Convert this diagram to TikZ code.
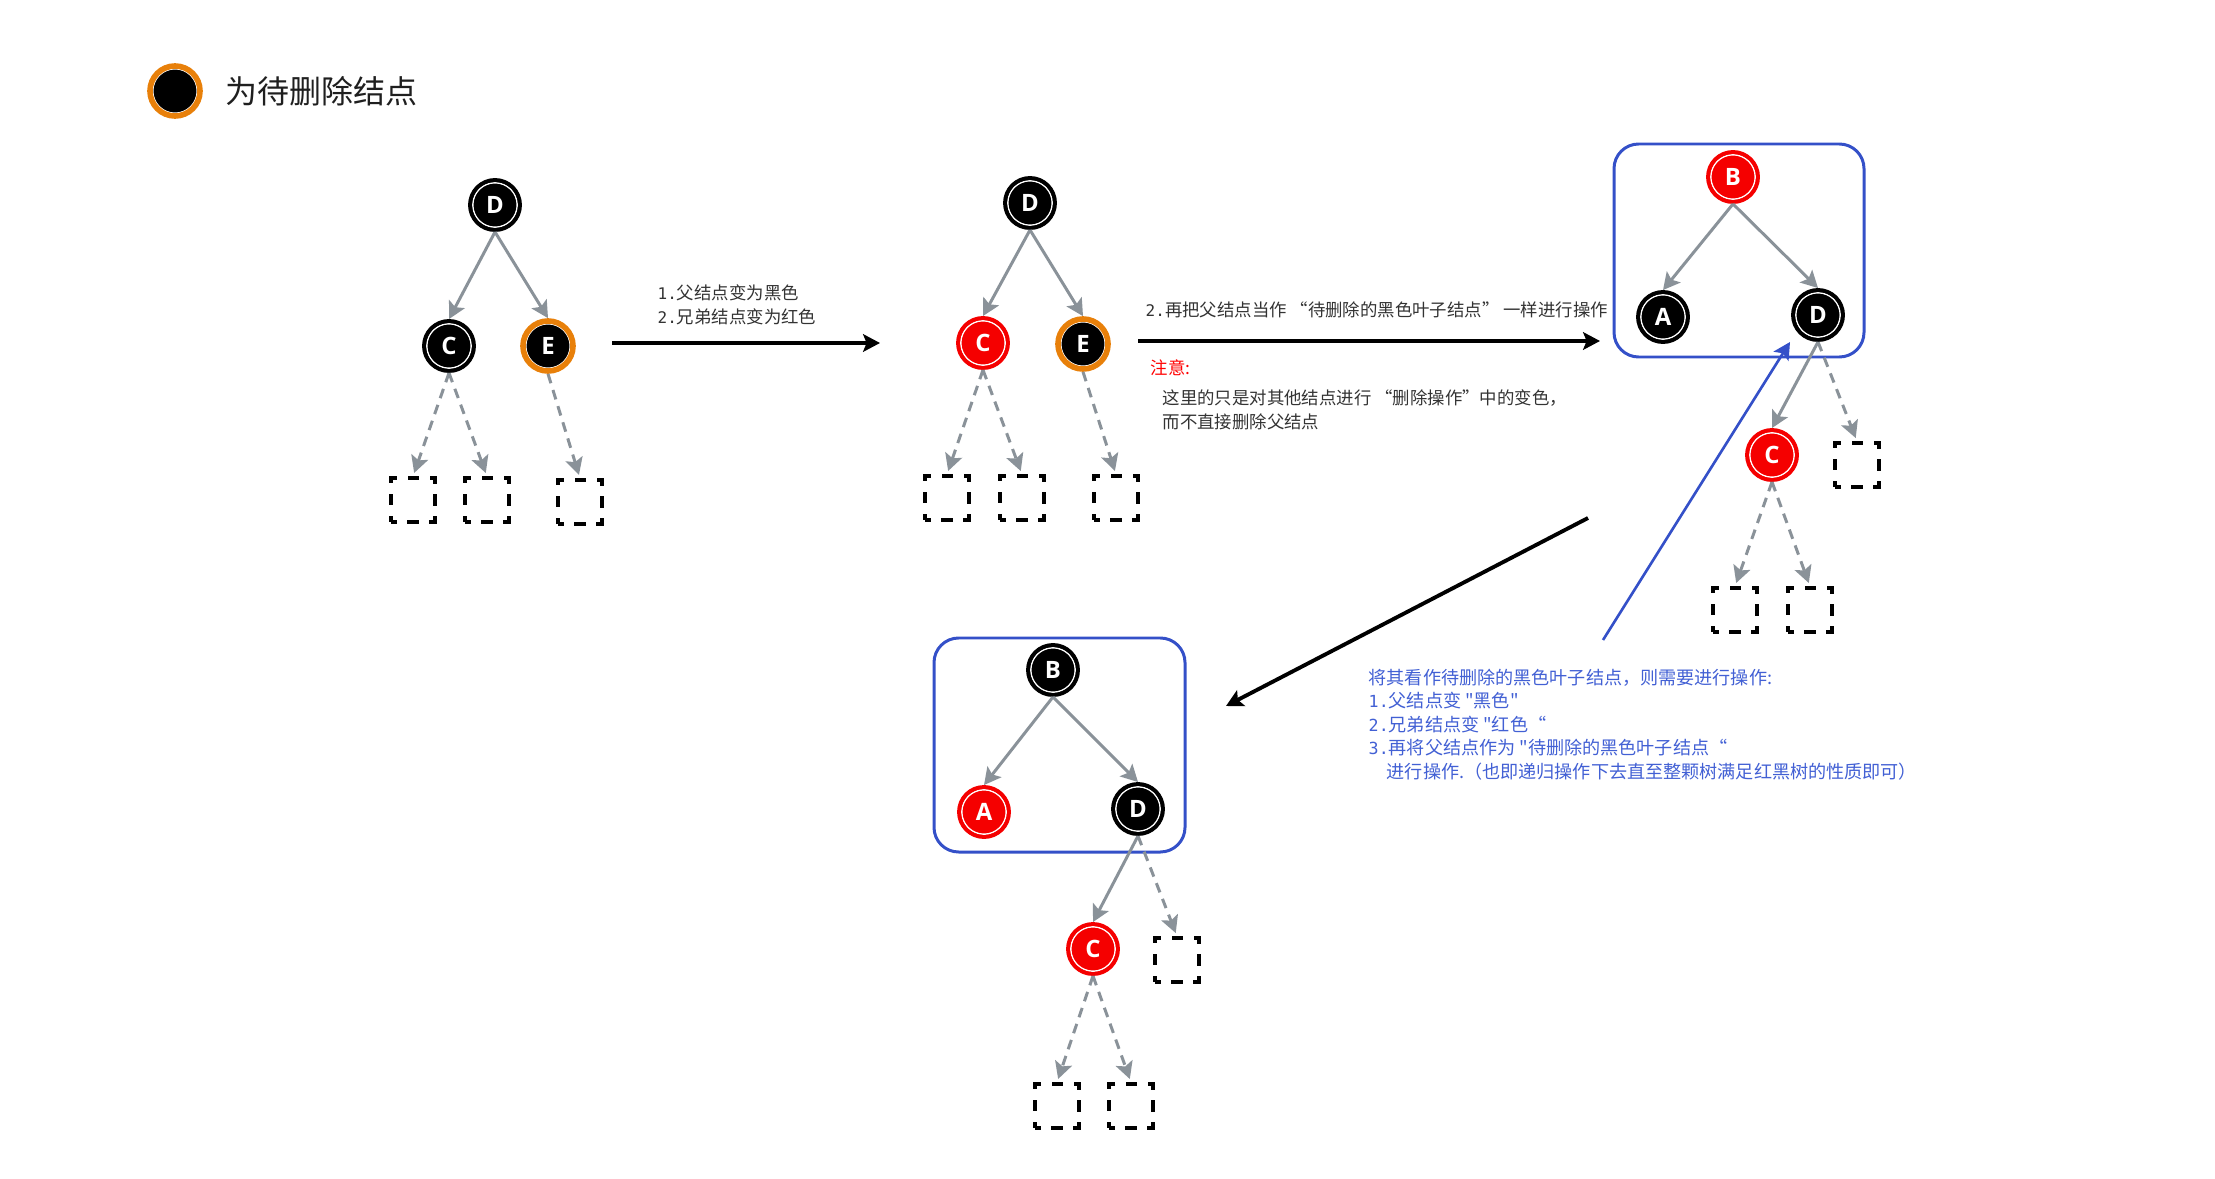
\documentclass[tikz,border=0pt]{standalone}
\usepackage{fontspec}
\setmainfont{Noto Sans CJK SC}[Ligatures=TeXOff]
\newfontfamily\letterfont{Open Sans}
\newfontfamily\digitfont{DejaVu Sans Mono}[Scale=0.92]
\newcommand\nb[1]{{\digitfont #1}}
\usetikzlibrary{arrows.meta,positioning}
\definecolor{edgegray}{RGB}{138,146,153}
\definecolor{nodered}{RGB}{245,0,0}
\definecolor{delorange}{RGB}{232,128,10}
\definecolor{boxblue}{RGB}{52,80,200}
\definecolor{textblue}{RGB}{66,96,212}
\definecolor{notegray}{RGB}{51,51,51}

\begin{document}
\begin{tikzpicture}[x=0.01cm,y=-0.01cm,>={Stealth[length=4.8pt,width=5pt,inset=1pt]},
  rb/.style={circle,minimum size=0.5cm,inner sep=0pt,line width=1.1pt,text=white,
    font=\letterfont\bfseries\fontsize{6.8}{7}\selectfont,
    path picture={\draw[white,line width=0.4pt] (path picture bounding box.center) circle (0.222cm);}},
  blk/.style={rb,fill=black,draw=black},
  rd/.style={rb,fill=nodered,draw=nodered},
  tbd/.style={rb,fill=black,draw=delorange,line width=1.6pt},
  nil/.style={draw=black,line width=0.95pt,minimum size=0.44cm,inner sep=0pt,
    dash pattern=on 3.2pt off 3.05pt,dash phase=1.6pt},
  link/.style={->,draw=edgegray,line width=0.85pt},
  nillink/.style={link,dash pattern=on 2.8pt off 2pt,shorten >=1pt},
  flow/.style={->,line width=1.1pt},
  note/.style={font=\fontsize{4.95}{6.7}\selectfont,text=notegray,align=left,inner sep=0pt},
  groupbox/.style={draw=boxblue,line width=0.85pt,rounded corners=7pt}]
\useasboundingbox (0,0) rectangle (2215,1179);

% legend
\node[tbd] (key) at (175,91) {};
\node[anchor=west,inner sep=0pt,text=black!88,font=\fontsize{9.1}{10}\selectfont] (keytext) at (225,91) {为待删除结点};

% tree before
\node[blk] (d1) at (495,205) {D};
\node[blk] (c1) at (449,346) {C};
\node[tbd] (e1) at (548,346) {E};
\node[nil] (n1a) at (413,500) {};
\node[nil] (n1b) at (487,500) {};
\node[nil] (n1c) at (580,502) {};

% tree after step 1
\node[blk] (d2) at (1030,203) {D};
\node[rd] (c2) at (983,343) {C};
\node[tbd] (e2) at (1083,344) {E};
\node[nil] (n2a) at (947,498) {};
\node[nil] (n2b) at (1022,498) {};
\node[nil] (n2c) at (1116,498) {};

% upper subtree
\draw[groupbox] (1614,144) rectangle (1864,357);
\node[rd] (b3) at (1733,177) {B};
\node[blk] (a3) at (1663,317) {A};
\node[blk] (d3) at (1818,315) {D};
\node[rd] (c3) at (1772,455) {C};
\node[nil] (n3a) at (1857,465) {};
\node[nil] (n3b) at (1735,610) {};
\node[nil] (n3c) at (1810,610) {};

% lower subtree
\draw[groupbox] (934,638) rectangle (1185,852);
\node[blk] (b4) at (1053,670) {B};
\node[rd] (a4) at (984,812) {A};
\node[blk] (d4) at (1138,809) {D};
\node[rd] (c4) at (1093,949) {C};
\node[nil] (n4a) at (1177,960) {};
\node[nil] (n4b) at (1057,1106) {};
\node[nil] (n4c) at (1131,1106) {};

\foreach \a/\b in {d1/c1,d1/e1,d2/c2,d2/e2,b3/a3,b3/d3,d3/c3,b4/a4,b4/d4,d4/c4}
  \draw[link] (\a.south) -- (\b.north);
\foreach \a/\b in {c1/n1a,c1/n1b,e1/n1c,c2/n2a,c2/n2b,e2/n2c,d3/n3a,c3/n3b,c3/n3c,d4/n4a,c4/n4b,c4/n4c}
  \draw[nillink] (\a.south) -- (\b.north);

% step arrows
\coordinate (s1) at (612,343);
\coordinate (t1) at (880,343);
\coordinate (s2) at (1138,341);
\coordinate (t2) at (1600,341);
\coordinate (s3) at (1588,518);
\coordinate (t3) at (1226,706);
\coordinate (s4) at (1603,640);
\coordinate (t4) at (1790,342);
\draw[flow] (s1) -- (t1);
\draw[flow] (s2) -- (t2);
\draw[flow] (s3) -- (t3);
\draw[->,boxblue,line width=0.75pt] (s4) -- (t4);

\node[note,anchor=west] (lbl1) at (657,305) {\nb{1.}父结点变为黑色\\\nb{2.}兄弟结点变为红色};
\node[note,anchor=west] (lbl2) at (1145,310) {\nb{2.}再把父结点当作 “待删除的黑色叶子结点” 一样进行操作};
\node[note,anchor=west,text=red] (warn) at (1150,368) {注意:};
\node[note,anchor=west] (warntext) at (1162,410) {这里的只是对其他结点进行 “删除操作”中的变色，\\而不直接删除父结点};
\node[note,anchor=north west,text=textblue,font=\fontsize{5.15}{6.7}\selectfont] (howto) at (1368,668)
  {将其看作待删除的黑色叶子结点，则需要进行操作:\\\nb{1.}父结点变 "黑色"\\\nb{2.}兄弟结点变 "红色“\\\nb{3.}再将父结点作为 "待删除的黑色叶子结点“\\\hspace*{1em}进行操作.（也即递归操作下去直至整颗树满足红黑树的性质即可）};
\end{tikzpicture}
\end{document}
